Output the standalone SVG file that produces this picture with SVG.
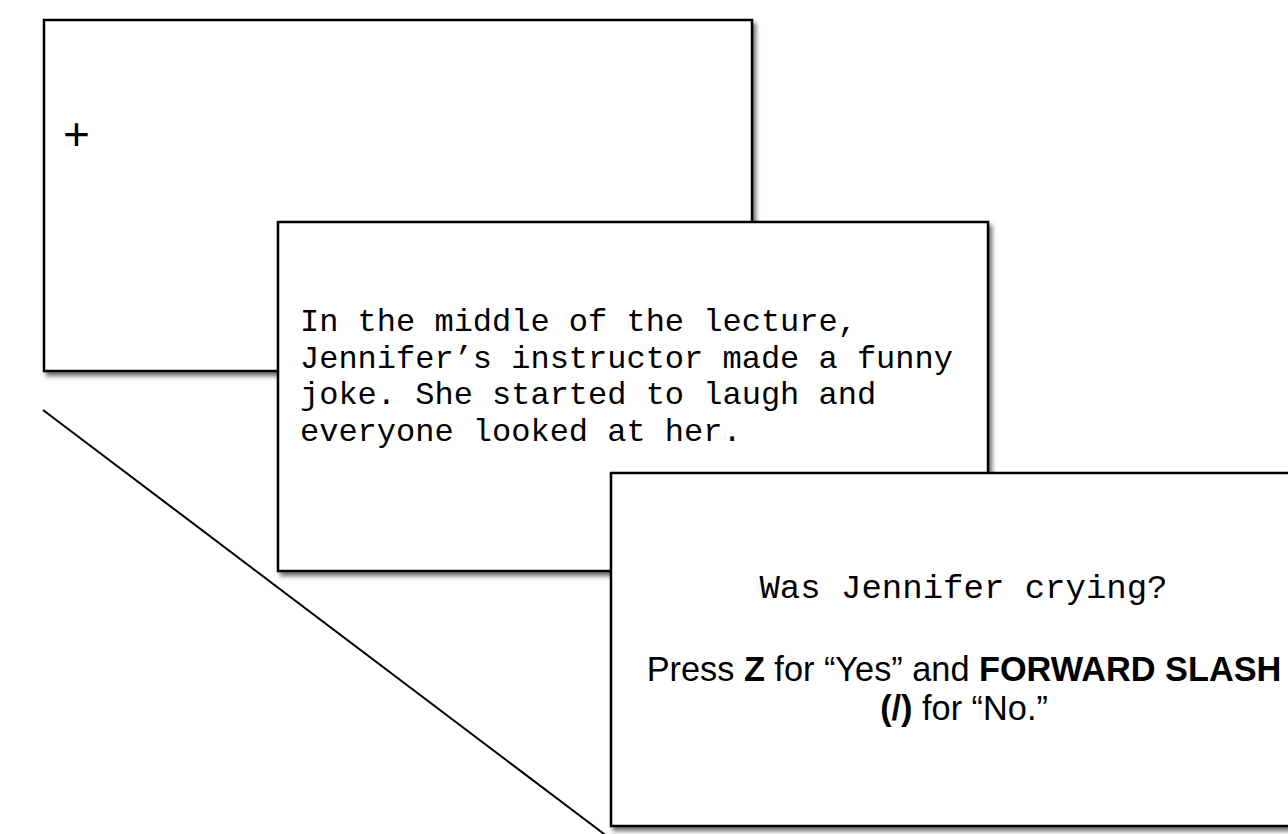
<svg xmlns="http://www.w3.org/2000/svg" width="1288" height="834" viewBox="0 0 1288 834">
  <style>
    .card { fill: #ffffff; stroke: #000000; stroke-width: 2.5; filter: url(#shadow); }
    .mono { font-family: "Liberation Mono", "Courier New", monospace; fill: #000000; }
    .sans { font-family: "Liberation Sans", Arial, sans-serif; fill: #000000; }
    .b { font-weight: bold; }
    .conn { stroke: #000000; stroke-width: 2; fill: none; }
  </style>
  <defs>
    <filter id="shadow" x="-5%" y="-5%" width="115%" height="115%">
      <feDropShadow dx="3" dy="4" stdDeviation="2" flood-color="#000000" flood-opacity="0.55"/>
    </filter>
    <marker id="arrow" viewBox="0 0 10 10" refX="10" refY="5" markerWidth="7" markerHeight="7" orient="auto" markerUnits="userSpaceOnUse">
      <path d="M0,0 L10,5 L0,10 z" fill="#000000"/>
    </marker>
  </defs>
  <rect width="1288" height="834" fill="#ffffff"/>

  <g id="connectors">
    <line class="conn" x1="43" y1="410" x2="616" y2="843" marker-end="url(#arrow)"/>
  </g>

  <g id="fixation">
    <rect class="card" x="44" y="20" width="708" height="351"/>
    <text class="sans" x="76.5" y="150" font-size="46" text-anchor="middle">+</text>
  </g>

  <g id="sentence">
    <rect class="card" x="278" y="222" width="710" height="349"/>
    <text class="mono" font-size="32">
      <tspan x="300" y="331">In the middle of the lecture,</tspan>
      <tspan x="300" y="367.5">Jennifer’s instructor made a funny</tspan>
      <tspan x="300" y="404">joke. She started to laugh and</tspan>
      <tspan x="300" y="440.5">everyone looked at her.</tspan>
    </text>
  </g>

  <g id="question">
    <rect class="card" x="611" y="473" width="712" height="353"/>
    <text class="mono" x="963.5" y="598" font-size="34" text-anchor="middle">Was Jennifer crying?</text>
    <text class="sans" x="964" y="680.5" font-size="34.3" text-anchor="middle">Press <tspan class="b">Z</tspan> for “Yes” and <tspan class="b">FORWARD SLASH</tspan></text>
    <text class="sans" x="964" y="720" font-size="34.3" text-anchor="middle"><tspan class="b">(/)</tspan> for “No.”</text>
  </g>
</svg>
